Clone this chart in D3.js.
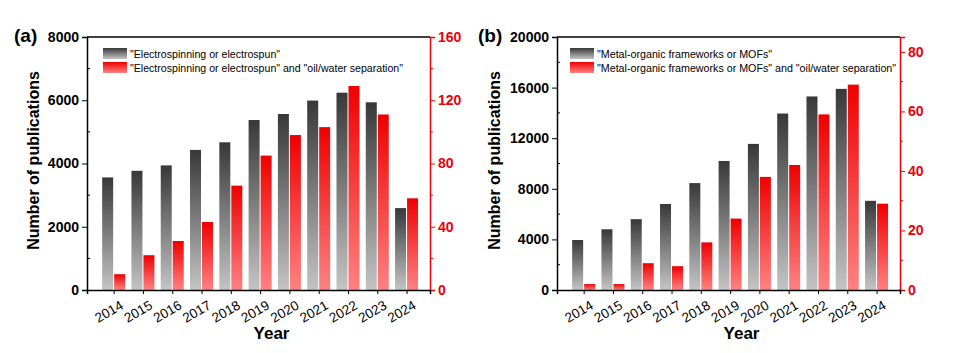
<!DOCTYPE html>
<html>
<head>
<meta charset="utf-8">
<script src="https://cdn.jsdelivr.net/npm/d3@7"></script>
<style>
  body { margin: 0; background: #fff; }
  svg { display: block; font-family: "Liberation Sans", Arial, sans-serif; }
</style>
</head>
<body>
<svg id="chart" width="955" height="353"></svg>
<script>
// years shared by both panels
let years = [2014, 2015, 2016, 2017, 2018, 2019, 2020, 2021, 2022, 2023, 2024];

// panel (a) values
let electroTotal = [3560, 3770, 3940, 4430, 4670, 5375, 5565, 5990, 6240, 5935, 2590];
let electroOil = [10, 22, 31, 43, 66, 85, 98, 103, 129, 111, 58];
// panel (b) values
let mofTotal = [3950, 4800, 5600, 6800, 8450, 10200, 11550, 13950, 15300, 15900, 7050];
let mofOil = [2, 2, 9, 8, 16, 24, 38, 42, 59, 69, 29];

let leftTicksA = [0, 2000, 4000, 6000, 8000];
let rightTicksA = [0, 40, 80, 120, 160];
let leftTicksB = [0, 4000, 8000, 12000, 16000, 20000];
let rightTicksB = [0, 20, 40, 60, 80];

let svg = d3.select("#chart");
let red = "#e8000b";

//gradients for bars
let defs = svg.append("defs");
function grad(id, top, bottom){
  let lg = defs.append("linearGradient").attr("id", id)
    .attr("x1", 0).attr("y1", 0).attr("x2", 0).attr("y2", 1);
  lg.append("stop").attr("offset", "0%").attr("stop-color", top);
  lg.append("stop").attr("offset", "100%").attr("stop-color", bottom);
}
grad("gDark", "#383838", "#c4c4c4");
grad("gRed", "#ee0000", "#ff8282");

function panel(opt){
  let left = opt.left, right = opt.right, top = 37, bottom = 290;
  let g = svg.append("g");
  let x = d3.scaleLinear().domain([2013.09, 2024.8]).range([left, right]);
  let yL = d3.scaleLinear().domain([0, opt.leftMax]).range([bottom, top]);
  let yR = d3.scaleLinear().domain([0, opt.rightMax]).range([bottom, top]);
  let bw = 11;

  //bars
  g.selectAll(".dark").data(years).enter().append("rect")
    .attr("x", (d) => x(d) - bw - 0.5)
    .attr("y", (d, i) => yL(opt.total[i]))
    .attr("width", bw)
    .attr("height", (d, i) => bottom - yL(opt.total[i]))
    .attr("fill", "url(#gDark)");
  g.selectAll(".red").data(years).enter().append("rect")
    .attr("x", (d) => x(d) + 0.5)
    .attr("y", (d, i) => yR(opt.oil[i]))
    .attr("width", bw)
    .attr("height", (d, i) => bottom - yR(opt.oil[i]))
    .attr("fill", "url(#gRed)");

  //frame top
  g.append("line").attr("x1", left).attr("x2", right).attr("y1", top).attr("y2", top)
    .attr("stroke", "#000").attr("stroke-width", 1.5);

  //left axis
  let la = g.append("g").attr("transform", "translate(" + left + ",0)")
    .call(d3.axisLeft(yL).tickValues(opt.leftTicks).tickSize(5).tickPadding(3).tickFormat(d3.format("d")));
  la.select(".domain").attr("stroke-width", 1.5);
  la.selectAll("text").attr("font-size", 14).attr("font-weight", "bold").attr("fill", "#000")
    .attr("font-family", "Liberation Sans, Arial, sans-serif");
  let minorL = d3.range(opt.leftStep / 2, opt.leftMax, opt.leftStep);
  g.selectAll(".mnl").data(minorL).enter().append("line")
    .attr("x1", left).attr("x2", left + 3)
    .attr("y1", (d) => yL(d)).attr("y2", (d) => yL(d)).attr("stroke", "#000");

  //right axis
  let ra = g.append("g").attr("transform", "translate(" + right + ",0)")
    .call(d3.axisRight(yR).tickValues(opt.rightTicks).tickSize(5).tickPadding(3));
  ra.select(".domain").attr("stroke", red).attr("stroke-width", 1.5);
  ra.selectAll(".tick line").attr("stroke", red);
  ra.selectAll("text").attr("font-size", 14).attr("font-weight", "bold").attr("fill", red)
    .attr("font-family", "Liberation Sans, Arial, sans-serif");
  let minorR = d3.range(opt.rightStep / 2, opt.rightMax, opt.rightStep);
  g.selectAll(".mnr").data(minorR).enter().append("line")
    .attr("x1", right).attr("x2", right + 3)
    .attr("y1", (d) => yR(d)).attr("y2", (d) => yR(d)).attr("stroke", red);

  //bottom axis
  let ba = g.append("g").attr("transform", "translate(0," + bottom + ")")
    .call(d3.axisBottom(x).tickValues(years).tickSize(4).tickFormat(d3.format("d")));
  ba.select(".domain").attr("stroke-width", 1.5);
  ba.selectAll("text")
    .attr("font-size", 13.5).attr("fill", "#000")
    .attr("font-family", "Liberation Sans, Arial, sans-serif")
    .attr("text-anchor", "end")
    .attr("y", 0).attr("dy", 0)
    .attr("transform", "translate(10,18) rotate(-30)");

  //titles
  g.append("text").attr("x", opt.labelX).attr("y", 42).text(opt.label)
    .attr("font-size", 19).attr("font-weight", "bold");
  g.append("text")
    .attr("transform", "translate(" + (opt.titleX) + "," + ((top + bottom) / 2 - 3) + ") rotate(-90)")
    .attr("text-anchor", "middle").attr("font-size", 16).attr("font-weight", "bold")
    .text("Number of publications");
  g.append("text").attr("x", (left + right) / 2 + 13).attr("y", 339)
    .attr("text-anchor", "middle").attr("font-size", 17).attr("font-weight", "bold")
    .text("Year");

  //legend
  let leg = g.append("g").attr("transform", "translate(" + (left + opt.legDx) + ",48)");
  let items = [["url(#gDark)", opt.leg1], ["url(#gRed)", opt.leg2]];
  items.forEach(function(it, i){
    leg.append("rect").attr("x", 0).attr("y", i * 14).attr("width", 24).attr("height", 11)
      .attr("fill", it[0]);
    leg.append("text").attr("x", 27).attr("y", i * 14 + 9.5).attr("font-size", opt.legFont)
      .text(it[1]);
  });
}

panel({left: 87, right: 430, leftMax: 8000, rightMax: 160, leftStep: 2000, rightStep: 40,
  leftTicks: leftTicksA, rightTicks: rightTicksA, total: electroTotal, oil: electroOil,
  label: "(a)", labelX: 14, titleX: 39, legDx: 16, legFont: 10.6,
  leg1: "\"Electrospinning or electrospun\"",
  leg2: "\"Electrospinning or electrospun\" and \"oil/water separation\""});

panel({left: 557, right: 900, leftMax: 20000, rightMax: 85, leftStep: 4000, rightStep: 20,
  leftTicks: leftTicksB, rightTicks: rightTicksB, total: mofTotal, oil: mofOil,
  label: "(b)", labelX: 478, titleX: 500, legDx: 13, legFont: 10.7,
  leg1: "\"Metal-organic frameworks or MOFs\"",
  leg2: "\"Metal-organic frameworks or MOFs\" and \"oil/water separation\""});
</script>
</body>
</html>
